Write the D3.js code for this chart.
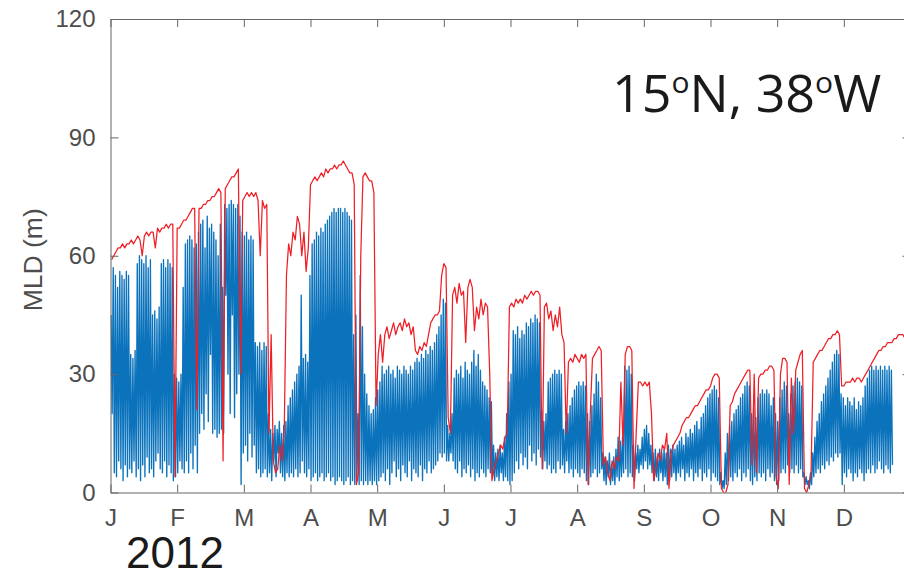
<!DOCTYPE html>
<html>
<head>
<meta charset="utf-8">
<script src="https://cdn.jsdelivr.net/npm/d3@7"></script>
<style>
  body { margin: 0; background: #fff; }
  svg { display: block; }
  .axis text { font-family: "Liberation Sans", Arial, Helvetica, sans-serif; font-size: 24px; fill: #4d4d4d; }
  .axis path, .axis line { stroke: #666; stroke-width: 1; }
</style>
</head>
<body>
<div class="mld-chart"></div>
<script>
// month labels at the 12 ticks (x axis is in month units, 1 = Jan 1, 13 = end of Dec)
const monthTicks = [1, 2, 3, 4, 5, 6, 7, 8, 9, 10, 11, 12];
const monthLabels = ['J', 'F', 'M', 'A', 'M', 'J', 'J', 'A', 'S', 'O', 'N', 'D'];
const mldTicks = [0, 30, 60, 90, 120];

// red curve: one value per day (m), day 0 = Jan 1 2012
const redMLD = [
  59,60,61,62,62,63,62,63,63,64, 63,64,65,64,60,65,66,65,66,66,
  62,67,66,67,67,68,67,68,68,4,  67,67,68,69,69,70,71,72,72,21,
  72,72,73,73,74,74,75,75,76,77, 76,8,77,78,79,80,80,81,82,30,
  74,75,76,75,76,75,76,74,60,74, 72,73,15,40,8,5,6,12,8,16,
  55,63,60,66,64,70,68,60,66,56, 62,78,79,80,79,80,81,80,82,81,
  82,82,83,82,83,83,84,83,82,81, 81,78,2,5,60,80,81,80,79,79,
  76,22,35,40,33,40,42,39,41,43, 40,42,43,41,44,42,43,40,42,36,
  35,37,36,38,37,40,43,44,45,45, 46,55,58,57,19,15,50,52,48,53,
  50,51,38,52,54,52,41,47,44,49, 45,48,47,30,3,6,8,10,12,11,
  14,15,47,48,47,49,48,49,48,50, 49,50,51,50,51,51,50,6,47,48,
  44,46,41,45,42,47,40,38,15,33, 34,33,35,34,33,35,34,35,2,20,
  34,35,36,37,36,7,9,5,3,8,      6,9,8,28,12,35,37,37,36,1,
  15,28,28,27,28,27,28,20,3,6,   10,8,12,11,15,1,10,12,13,14,
  15,17,18,19,19,20,21,22,22,23, 24,25,26,26,27,29,30,30,29,1,
  0,0,2,22,23,25,26,27,28,29,    30,31,31,7,30,5,29,30,30,31,
  31,32,32,31,4,1,30,34,34,33,   2,29,15,31,33,35,36,1,0,2,
  5,33,34,35,36,36,37,38,39,39,  40,40,41,40,27,27,28,28,28,29,
  28,29,29,28,29,30,31,32,33,34, 35,36,36,37,37,38,38,38,39,39,
  40,40,40,39
];

// blue curve: each day swings between a night-time deep value and a day-time shallow value (m)
const blueDeep = [
  45,57,55,52,56,55,54,56,55,35, 34,36,58,60,59,58,60,57,59,45,
  46,44,47,58,59,57,59,58,57,30, 29,28,30,52,63,64,65,64,62,63,
  66,68,69,62,70,67,68,66,64,60, 68,52,73,72,73,74,73,72,73,70,
  66,65,66,64,65,64,38,37,38,36, 38,37,20,16,15,17,16,18,15,17,
  18,22,24,26,28,30,32,50,34,35, 33,55,63,64,66,65,67,66,68,69,
  70,71,72,71,72,72,71,72,71,70, 69,40,45,20,55,42,30,25,22,20,
  21,24,26,28,32,30,31,32,30,31, 29,32,31,30,32,31,30,32,31,33,
  34,33,35,34,36,35,37,36,38,40, 42,45,49,48,17,15,20,29,31,30,
  32,29,33,31,30,33,36,32,35,31, 28,27,26,24,23,12,10,11,12,10,
  14,20,28,30,41,40,42,39,41,40, 43,42,44,43,45,44,43,21,18,20,
  28,29,30,31,30,31,30,16,18,20, 22,24,26,27,28,27,28,27,20,18,
  22,25,30,28,24,10,9,8,10,7,    9,11,14,13,14,32,31,32,30,12,
  10,12,11,14,16,17,15,12,10,11, 9,11,10,11,10,12,11,12,11,12,
  13,14,12,15,14,16,15,17,18,16, 19,20,22,24,25,26,27,26,24,5,
  3,10,15,17,18,20,21,22,24,25,  27,28,27,20,22,19,24,25,26,25,
  26,25,22,24,20,18,24,26,28,27, 20,25,27,28,29,28,27,5,4,3,
  5,10,14,18,20,23,25,27,29,31,  33,35,36,35,25,24,22,24,23,22,
  24,21,23,22,24,27,29,31,32,31, 32,31,32,31,32,31,32,31
];
const blueShallow = [
  20,5,4,8,6,3,7,4,6,5,     8,4,6,3,7,4,9,5,6,4,
  8,10,6,5,8,4,7,5,3,4,     5,8,6,5,8,5,10,6,12,5,
  15,20,16,25,18,35,15,16,14,15, 16,15,50,30,20,45,19,25,30,2,
  10,12,8,15,9,12,5,6,4,5,  6,4,5,3,8,4,10,5,4,3,
  5,4,5,4,6,4,5,8,5,4,      6,3,4,5,3,4,5,3,4,5,
  3,4,2,3,4,3,2,3,4,2,      3,2,3,2,3,2,3,2,3,2,
  3,2,3,4,5,3,6,2,5,8,      4,6,3,7,5,4,8,3,6,5,
  4,7,3,6,5,8,5,6,7,8,      10,9,10,8,8,10,8,6,5,8,
  4,6,5,7,4,6,3,5,4,6,      5,4,6,5,4,3,4,3,5,3,
  4,3,2,3,5,8,6,10,7,9,     6,12,8,10,7,11,9,6,8,6,
  7,5,6,5,8,6,7,5,8,5,      6,4,6,5,4,6,5,3,2,4,
  5,6,4,5,6,3,2,4,2,3,      2,4,3,4,5,6,4,5,4,3,
  6,5,7,6,8,6,7,5,3,4,      3,5,3,4,2,3,4,5,3,5,
  4,6,3,5,4,6,3,5,4,6,      3,5,4,6,3,5,4,3,2,1,
  1,2,3,4,3,5,4,6,3,5,      4,6,3,2,4,3,5,4,5,3,
  6,4,5,3,2,3,5,6,5,7,      5,6,5,7,5,6,4,2,2,1,
  2,4,5,6,5,7,6,8,7,9,      8,10,9,10,2,5,4,6,5,3,
  5,4,6,5,3,5,6,5,7,5,      6,8,6,5,7,6,5,7
];

// day of year -> month units (2012 has 366 days)
const dayToMonth = t => 1 + t * 12 / 366;

const redData = redMLD.map((v, i) => ({ m: dayToMonth(i + 0.5), v: v }));
const blueData = [];
blueDeep.forEach((v, i) => {
  blueData.push({ m: dayToMonth(i + 0.25), v: v });
  blueData.push({ m: dayToMonth(i + 0.75), v: blueShallow[i] });
});

const svg_width = 904;
const svg_height = 577;
const margin = { top: 19, left: 110.5, bottom: 84.5 };
const plot_width = 800; // right edge of the box falls just outside the picture
const plot_height = svg_height - margin.top - margin.bottom;

const svg = d3.select('.mld-chart').append('svg')
  .attr('width', svg_width).attr('height', svg_height);

const xScale = d3.scaleLinear().domain([1, 13]).range([0, plot_width]);
const yScale = d3.scaleLinear().domain([0, 120]).range([plot_height, 0]);

const g = svg.append('g').attr('transform', `translate(${margin.left},${margin.top})`);

g.append('clipPath').attr('id', 'plot-clip')
  .append('rect').attr('width', plot_width).attr('height', plot_height);

const line = d3.line().x(d => xScale(d.m)).y(d => yScale(d.v));

const lines = g.append('g').attr('clip-path', 'url(#plot-clip)');
lines.append('path').datum(blueData)
  .attr('d', line).attr('fill', 'none')
  .attr('stroke', '#0b72bc').attr('stroke-width', 1.35).attr('stroke-linejoin', 'round');
lines.append('path').datum(redData)
  .attr('d', line).attr('fill', 'none')
  .attr('stroke', '#ee1f26').attr('stroke-width', 1.25).attr('stroke-linejoin', 'round');

// box axes, ticks pointing inward like matlab
const xAxis = d3.axisBottom(xScale).tickValues(monthTicks)
  .tickFormat((d, i) => monthLabels[i]).tickSizeInner(-8).tickSizeOuter(0).tickPadding(16);
g.append('g').attr('class', 'x axis').attr('transform', `translate(0,${plot_height})`).call(xAxis);
g.append('g').attr('class', 'x axis top')
  .call(d3.axisTop(xScale).tickValues(monthTicks).tickFormat('').tickSizeInner(-8).tickSizeOuter(0));

const yAxis = d3.axisLeft(yScale).tickValues(mldTicks).tickSizeInner(-8).tickSizeOuter(0).tickPadding(15);
g.append('g').attr('class', 'y axis').call(yAxis);
g.append('g').attr('class', 'y axis right').attr('transform', `translate(${plot_width},0)`)
  .call(d3.axisRight(yScale).tickValues(mldTicks).tickFormat('').tickSizeInner(-8).tickSizeOuter(0));

// y label
svg.append('text')
  .attr('transform', `translate(42,${margin.top + plot_height / 2 + 4}) rotate(-90)`)
  .attr('text-anchor', 'middle')
  .style('font-family', '"Liberation Sans", Arial, sans-serif')
  .style('font-size', '26.5px').style('fill', '#4d4d4d')
  .text('MLD (m)');

// location label with superscript o
const title = svg.append('text')
  .attr('x', 612).attr('y', 111.5)
  .style('font-family', '"Open Sans", "Noto Sans", sans-serif')
  .style('font-size', '52px').style('fill', '#1a1a1a');
title.append('tspan').text('15');
title.append('tspan').text('o').style('font-size', '30px').attr('dy', -19);
title.append('tspan').text('N, 38').attr('dy', 19);
title.append('tspan').text('o').style('font-size', '30px').attr('dy', -19);
title.append('tspan').text('W').attr('dy', 19);

// year below the axis (kept inside the bottom edge, clear of the month labels)
svg.append('text')
  .attr('x', 126).attr('y', 568)
  .style('font-family', '"Liberation Sans", Arial, sans-serif')
  .style('font-size', '44px').style('fill', '#1a1a1a')
  .text('2012');
</script>
</body>
</html>
